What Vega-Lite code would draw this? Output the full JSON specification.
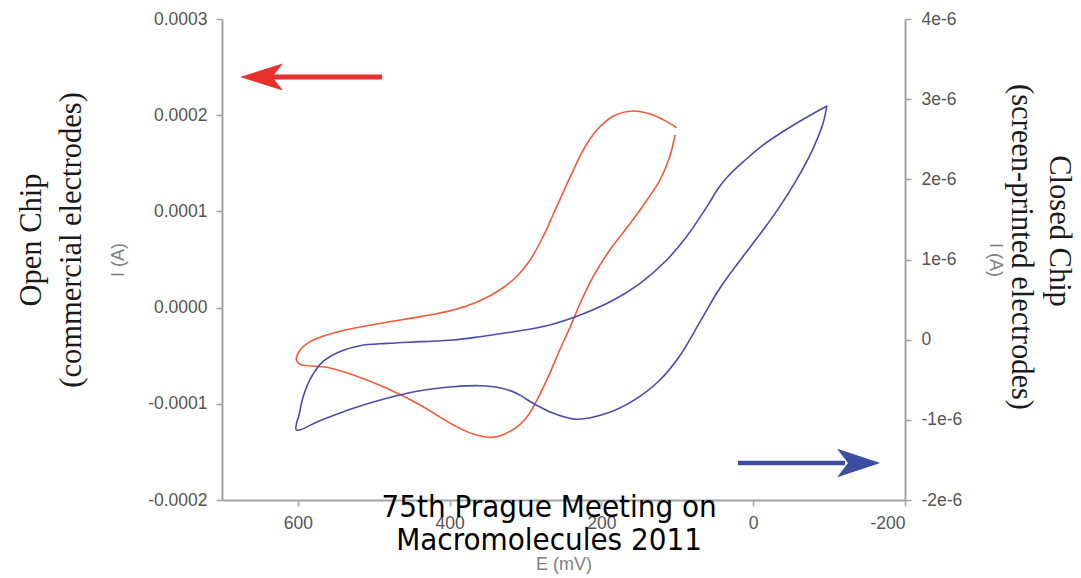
{
  "$schema": "https://vega.github.io/schema/vega-lite/v6.json",
  "width": 683,
  "height": 481,
  "autosize": {"type": "none"},
  "padding": {"left": 222, "top": 19, "right": 176, "bottom": 78},
  "background": "white",
  "config": {
    "view": {"stroke": null},
    "axis": {
      "grid": false,
      "domainColor": "#a3a3a3",
      "domainWidth": 2,
      "tickColor": "#a3a3a3",
      "tickWidth": 1.5,
      "tickSize": 6,
      "labelColor": "#555555",
      "labelFont": "Liberation Sans",
      "labelFontSize": 17.5,
      "titleColor": "#808080",
      "titleFont": "Liberation Sans",
      "titleFontSize": 18,
      "titleFontWeight": "normal"
    }
  },
  "datasets": {
    "red": [
      {"i": 1, "E": 103, "I": 0.0001794},
      {"i": 2, "E": 110, "I": 0.0001569},
      {"i": 3, "E": 123, "I": 0.0001326},
      {"i": 4, "E": 140, "I": 0.0001118},
      {"i": 5, "E": 162, "I": 0.0000876},
      {"i": 6, "E": 189, "I": 0.0000599},
      {"i": 7, "E": 211, "I": 0.0000321},
      {"i": 8, "E": 228, "I": 0.0000045},
      {"i": 9, "E": 241, "I": -0.0000198},
      {"i": 10, "E": 255, "I": -0.0000441},
      {"i": 11, "E": 270, "I": -0.0000718},
      {"i": 12, "E": 285, "I": -0.0000961},
      {"i": 13, "E": 298, "I": -0.0001134},
      {"i": 14, "E": 316, "I": -0.0001266},
      {"i": 15, "E": 342, "I": -0.0001348},
      {"i": 16, "E": 369, "I": -0.0001314},
      {"i": 17, "E": 395, "I": -0.000122},
      {"i": 18, "E": 439, "I": -0.0001013},
      {"i": 19, "E": 483, "I": -0.0000839},
      {"i": 20, "E": 527, "I": -0.0000701},
      {"i": 21, "E": 562, "I": -0.0000621},
      {"i": 22, "E": 597, "I": -0.000059},
      {"i": 23, "E": 602, "I": -0.0000545},
      {"i": 24, "E": 597, "I": -0.0000441},
      {"i": 25, "E": 584, "I": -0.0000354},
      {"i": 26, "E": 562, "I": -0.0000285},
      {"i": 27, "E": 527, "I": -0.0000215},
      {"i": 28, "E": 483, "I": -0.0000153},
      {"i": 29, "E": 439, "I": -0.0000094},
      {"i": 30, "E": 395, "I": -0.0000025},
      {"i": 31, "E": 360, "I": 0.0000072},
      {"i": 32, "E": 334, "I": 0.0000183},
      {"i": 33, "E": 312, "I": 0.0000321},
      {"i": 34, "E": 294, "I": 0.0000495},
      {"i": 35, "E": 277, "I": 0.0000737},
      {"i": 36, "E": 259, "I": 0.0001049},
      {"i": 37, "E": 241, "I": 0.0001361},
      {"i": 38, "E": 224, "I": 0.0001638},
      {"i": 39, "E": 206, "I": 0.0001846},
      {"i": 40, "E": 184, "I": 0.0001992},
      {"i": 41, "E": 158, "I": 0.0002044},
      {"i": 42, "E": 132, "I": 0.0002002},
      {"i": 43, "E": 114, "I": 0.0001933},
      {"i": 44, "E": 101, "I": 0.000187}
    ],
    "blue": [
      {"i": 1, "E": -97, "I": 2.915e-6},
      {"i": 2, "E": -57, "I": 2.699e-6},
      {"i": 3, "E": -13, "I": 2.428e-6},
      {"i": 4, "E": 13, "I": 2.22e-6},
      {"i": 5, "E": 35, "I": 2.02e-6},
      {"i": 6, "E": 46, "I": 1.888e-6},
      {"i": 7, "E": 61, "I": 1.659e-6},
      {"i": 8, "E": 88, "I": 1.284e-6},
      {"i": 9, "E": 114, "I": 0.994e-6},
      {"i": 10, "E": 149, "I": 0.703e-6},
      {"i": 11, "E": 184, "I": 0.495e-6},
      {"i": 12, "E": 228, "I": 0.308e-6},
      {"i": 13, "E": 272, "I": 0.174e-6},
      {"i": 14, "E": 316, "I": 0.099e-6},
      {"i": 15, "E": 360, "I": 0.037e-6},
      {"i": 16, "E": 395, "I": -0.004e-6},
      {"i": 17, "E": 439, "I": -0.025e-6},
      {"i": 18, "E": 483, "I": -0.046e-6},
      {"i": 19, "E": 518, "I": -0.075e-6},
      {"i": 20, "E": 545, "I": -0.15e-6},
      {"i": 21, "E": 567, "I": -0.275e-6},
      {"i": 22, "E": 582, "I": -0.462e-6},
      {"i": 23, "E": 593, "I": -0.711e-6},
      {"i": 24, "E": 598, "I": -0.919e-6},
      {"i": 25, "E": 602, "I": -1.127e-6},
      {"i": 26, "E": 571, "I": -1.011e-6},
      {"i": 27, "E": 527, "I": -0.856e-6},
      {"i": 28, "E": 483, "I": -0.731e-6},
      {"i": 29, "E": 439, "I": -0.637e-6},
      {"i": 30, "E": 395, "I": -0.587e-6},
      {"i": 31, "E": 360, "I": -0.574e-6},
      {"i": 32, "E": 334, "I": -0.599e-6},
      {"i": 33, "E": 312, "I": -0.669e-6},
      {"i": 34, "E": 290, "I": -0.794e-6},
      {"i": 35, "E": 263, "I": -0.919e-6},
      {"i": 36, "E": 233, "I": -0.993e-6},
      {"i": 37, "E": 193, "I": -0.919e-6},
      {"i": 38, "E": 158, "I": -0.761e-6},
      {"i": 39, "E": 123, "I": -0.503e-6},
      {"i": 40, "E": 96, "I": -0.191e-6},
      {"i": 41, "E": 70, "I": 0.224e-6},
      {"i": 42, "E": 44, "I": 0.641e-6},
      {"i": 43, "E": 17, "I": 0.994e-6},
      {"i": 44, "E": -13, "I": 1.368e-6},
      {"i": 45, "E": -35, "I": 1.659e-6},
      {"i": 46, "E": -57, "I": 1.992e-6},
      {"i": 47, "E": -79, "I": 2.387e-6},
      {"i": 48, "E": -92, "I": 2.699e-6},
      {"i": 49, "E": -97, "I": 2.915e-6}
    ],
    "redArrow": [{"E": 637, "E2": 489, "I": 0.0002397}],
    "redHead": [{"E": 648, "I": 0.0002397}],
    "blueArrow": [{"E": 20, "E2": -121, "I": -0.0001615}],
    "blueHead": [{"E": -139, "I": -0.0001615}],
    "leftLabels": [
      {"E": 950, "I": 0.0000703, "t": "Open Chip"},
      {"E": 898, "I": 0.0000703, "t": "(commercial electrodes)"}
    ],
    "rightLabels": [
      {"E": -403, "I": 0.0000796, "t": "Closed Chip"},
      {"E": -353, "I": 0.000063, "t": "(screen-printed electrodes)"}
    ],
    "overlay": [
      {"E": 269, "I": -0.0002177, "t": "75th Prague Meeting on"},
      {"E": 269, "I": -0.000252, "t": "Macromolecules 2011"}
    ]
  },
  "encoding": {
    "x": {
      "field": "E",
      "type": "quantitative",
      "scale": {"domain": [-200, 700], "reverse": true, "nice": false, "zero": false},
      "axis": {
        "title": "E (mV)",
        "values": [600, 400, 200, 0, -200],
        "labelExpr": "'' + datum.value",
        "labelPadding": 8,
        "titlePadding": 24
      }
    }
  },
  "layer": [
    {
      "encoding": {
        "y": {
          "field": "I",
          "type": "quantitative",
          "scale": {"domain": [-0.0002, 0.0003], "nice": false, "zero": false},
          "axis": {
            "orient": "left",
            "title": "I (A)",
            "values": [-0.0002, -0.0001, 0, 0.0001, 0.0002, 0.0003],
            "labelExpr": "replace(format(datum.value, '.4f'), '−', '-')",
            "labelPadding": 9,
            "titlePadding": 20
          }
        }
      },
      "layer": [
        {
          "data": {"name": "red"},
          "mark": {"type": "line", "color": "#f25a3a", "strokeWidth": 1.6, "interpolate": "catmull-rom"},
          "encoding": {"order": {"field": "i", "type": "quantitative"}}
        },
        {
          "data": {"name": "redArrow"},
          "mark": {"type": "rule", "color": "#e8302e", "strokeWidth": 5},
          "encoding": {"x2": {"field": "E2"}}
        },
        {
          "data": {"name": "redHead"},
          "mark": {"type": "point", "filled": true, "opacity": 1, "color": "#e8302e", "size": 1849, "shape": "M -1 0 L 1 -0.63 L 0.5 0 L 1 0.63 Z"}
        },
        {
          "data": {"name": "blueArrow"},
          "mark": {"type": "rule", "color": "#3a4da0", "strokeWidth": 4.5},
          "encoding": {"x2": {"field": "E2"}}
        },
        {
          "data": {"name": "blueHead"},
          "mark": {"type": "point", "filled": true, "opacity": 1, "color": "#3a4da0", "size": 1849, "shape": "M 1 0 L -1 -0.66 L -0.5 0 L -1 0.66 Z"}
        },
        {
          "data": {"name": "leftLabels"},
          "mark": {"type": "text", "font": "Liberation Serif", "fontSize": 30.5, "color": "#1a1a1a", "angle": 270, "align": "center", "baseline": "middle"},
          "encoding": {"text": {"field": "t"}}
        },
        {
          "data": {"name": "rightLabels"},
          "mark": {"type": "text", "font": "Liberation Serif", "fontSize": 30.5, "color": "#1a1a1a", "angle": 90, "align": "center", "baseline": "middle"},
          "encoding": {"text": {"field": "t"}}
        },
        {
          "data": {"name": "overlay"},
          "mark": {"type": "text", "font": "DejaVu Sans Condensed, DejaVu Sans", "fontSize": 31, "color": "#000000", "align": "center", "baseline": "alphabetic"},
          "encoding": {"text": {"field": "t"}}
        }
      ]
    },
    {
      "data": {"name": "blue"},
      "mark": {"type": "line", "color": "#4e4aab", "strokeWidth": 1.6, "interpolate": "catmull-rom"},
      "encoding": {
        "order": {"field": "i", "type": "quantitative"},
        "y": {
          "field": "I",
          "type": "quantitative",
          "scale": {"domain": [-2e-6, 4e-6], "nice": false, "zero": false},
          "axis": {
            "orient": "right",
            "title": "I (A)",
            "values": [-2e-6, -1e-6, 0, 1e-6, 2e-6, 3e-6, 4e-6],
            "labelExpr": "datum.value == 0 ? '0' : round(datum.value * 1e6) + 'e-6'",
            "labelPadding": 10,
            "titlePadding": 24
          }
        }
      }
    }
  ],
  "resolve": {"scale": {"y": "independent"}}
}
